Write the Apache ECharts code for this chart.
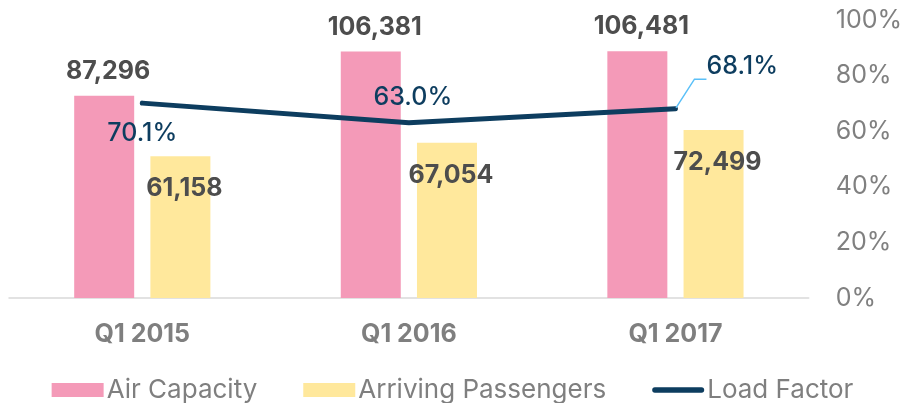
<!DOCTYPE html>
<html>
<head>
<meta charset="UTF-8">
<title>Air capacity vs arriving passengers</title>
<style>
  body { margin: 0; padding: 0; background: #ffffff; }
  #main { width: 905px; height: 403px; }
</style>
</head>
<body>
<div id="main"></div>
<script src="https://cdn.jsdelivr.net/npm/echarts@6/dist/echarts.min.js"></script>
<script>
// data
var quarters = ['Q1 2015', 'Q1 2016', 'Q1 2017'];
var airCapacity = [87296, 106381, 106481];
var arrivingPassengers = [61158, 67054, 72499];
var loadFactor = [0.701, 0.630, 0.681];

var FONT = 'Inter';

// where each load factor label sits relative to its point
var lfLabels = [
    { position: 'bottom', distance: 17 },
    { position: 'top', distance: 12, offset: [4, 0] },
    { position: 'right', distance: 6, offset: [24, -42], labelLine: true }
];

var lfData = loadFactor.map(function (v, i) {
    var cfg = lfLabels[i];
    var item = {
        value: v,
        label: { position: cfg.position, distance: cfg.distance, offset: cfg.offset || [0, 0] }
    };
    if (cfg.labelLine) {
        item.labelLine = { show: true, length2: 12, lineStyle: { color: '#5bc0f8', width: 1.5 } };
    }
    return item;
});

var fmtNum = function (p) { return p.value.toLocaleString('en-US'); };

var chart = echarts.init(document.getElementById('main'));
chart.setOption({
    backgroundColor: '#ffffff',
    animation: false,
    grid: { left: 9, right: 95, top: 20, bottom: 105 },
    legend: {
        top: 372,
        left: 'center',
        itemWidth: 52,
        itemHeight: 14,
        itemGap: 46,
        textStyle: { fontFamily: FONT, fontSize: 26, color: '#7f7f7f', padding: [0, 0, 0, -2] },
        data: [
            { name: 'Air Capacity', icon: 'rect' },
            { name: 'Arriving Passengers', icon: 'rect' },
            { name: 'Load Factor', icon: 'path://M3,0 L55,0 A3,3 0 0 1 55,6 L3,6 A3,3 0 0 1 3,0 Z' }
        ]
    },
    xAxis: {
        type: 'category',
        data: quarters,
        axisTick: { show: false },
        axisLine: { lineStyle: { color: '#d9d9d9', width: 1.5 } },
        axisLabel: { margin: 24, fontFamily: FONT, fontSize: 25, fontWeight: 'bold', color: '#7f7f7f' }
    },
    yAxis: [
        { type: 'value', min: 0, max: 120000, show: false },
        {
            type: 'value', position: 'right', min: 0, max: 1, interval: 0.2,
            axisLine: { show: false }, axisTick: { show: false }, splitLine: { show: false },
            axisLabel: {
                margin: 27, align: 'left', fontFamily: FONT, fontSize: 25, color: '#808080',
                formatter: function (v) { return Math.round(v * 100) + '%'; }
            }
        }
    ],
    series: [
        {
            name: 'Air Capacity', type: 'bar', yAxisIndex: 0,
            data: airCapacity, barWidth: 60, barGap: '27%',
            itemStyle: { color: '#f49ab8' },
            label: {
                show: true, position: 'top', distance: 12, offset: [4, 0],
                fontFamily: FONT, fontSize: 25, fontWeight: 'bold', color: '#4d4d4d',
                formatter: fmtNum
            }
        },
        {
            name: 'Arriving Passengers', type: 'bar', yAxisIndex: 0,
            data: arrivingPassengers, barWidth: 60,
            itemStyle: { color: '#ffe89c' },
            label: {
                show: true, position: 'insideTop', distance: 20, offset: [4, 0],
                fontFamily: FONT, fontSize: 25, fontWeight: 'bold', color: '#4d4d4d',
                formatter: fmtNum
            }
        },
        {
            name: 'Load Factor', type: 'line', yAxisIndex: 1,
            data: lfData,
            symbol: 'circle', symbolSize: 2, showSymbol: true,
            lineStyle: { color: '#0d3d5f', width: 5, cap: 'round' },
            itemStyle: { color: '#0d3d5f' },
            label: {
                show: true, fontFamily: FONT, fontSize: 25, fontWeight: 500, color: '#0d3d5f',
                formatter: function (p) { return (p.value * 100).toFixed(1) + '%'; }
            },
            labelLine: { show: false }
        }
    ]
});
</script>
</body>
</html>
